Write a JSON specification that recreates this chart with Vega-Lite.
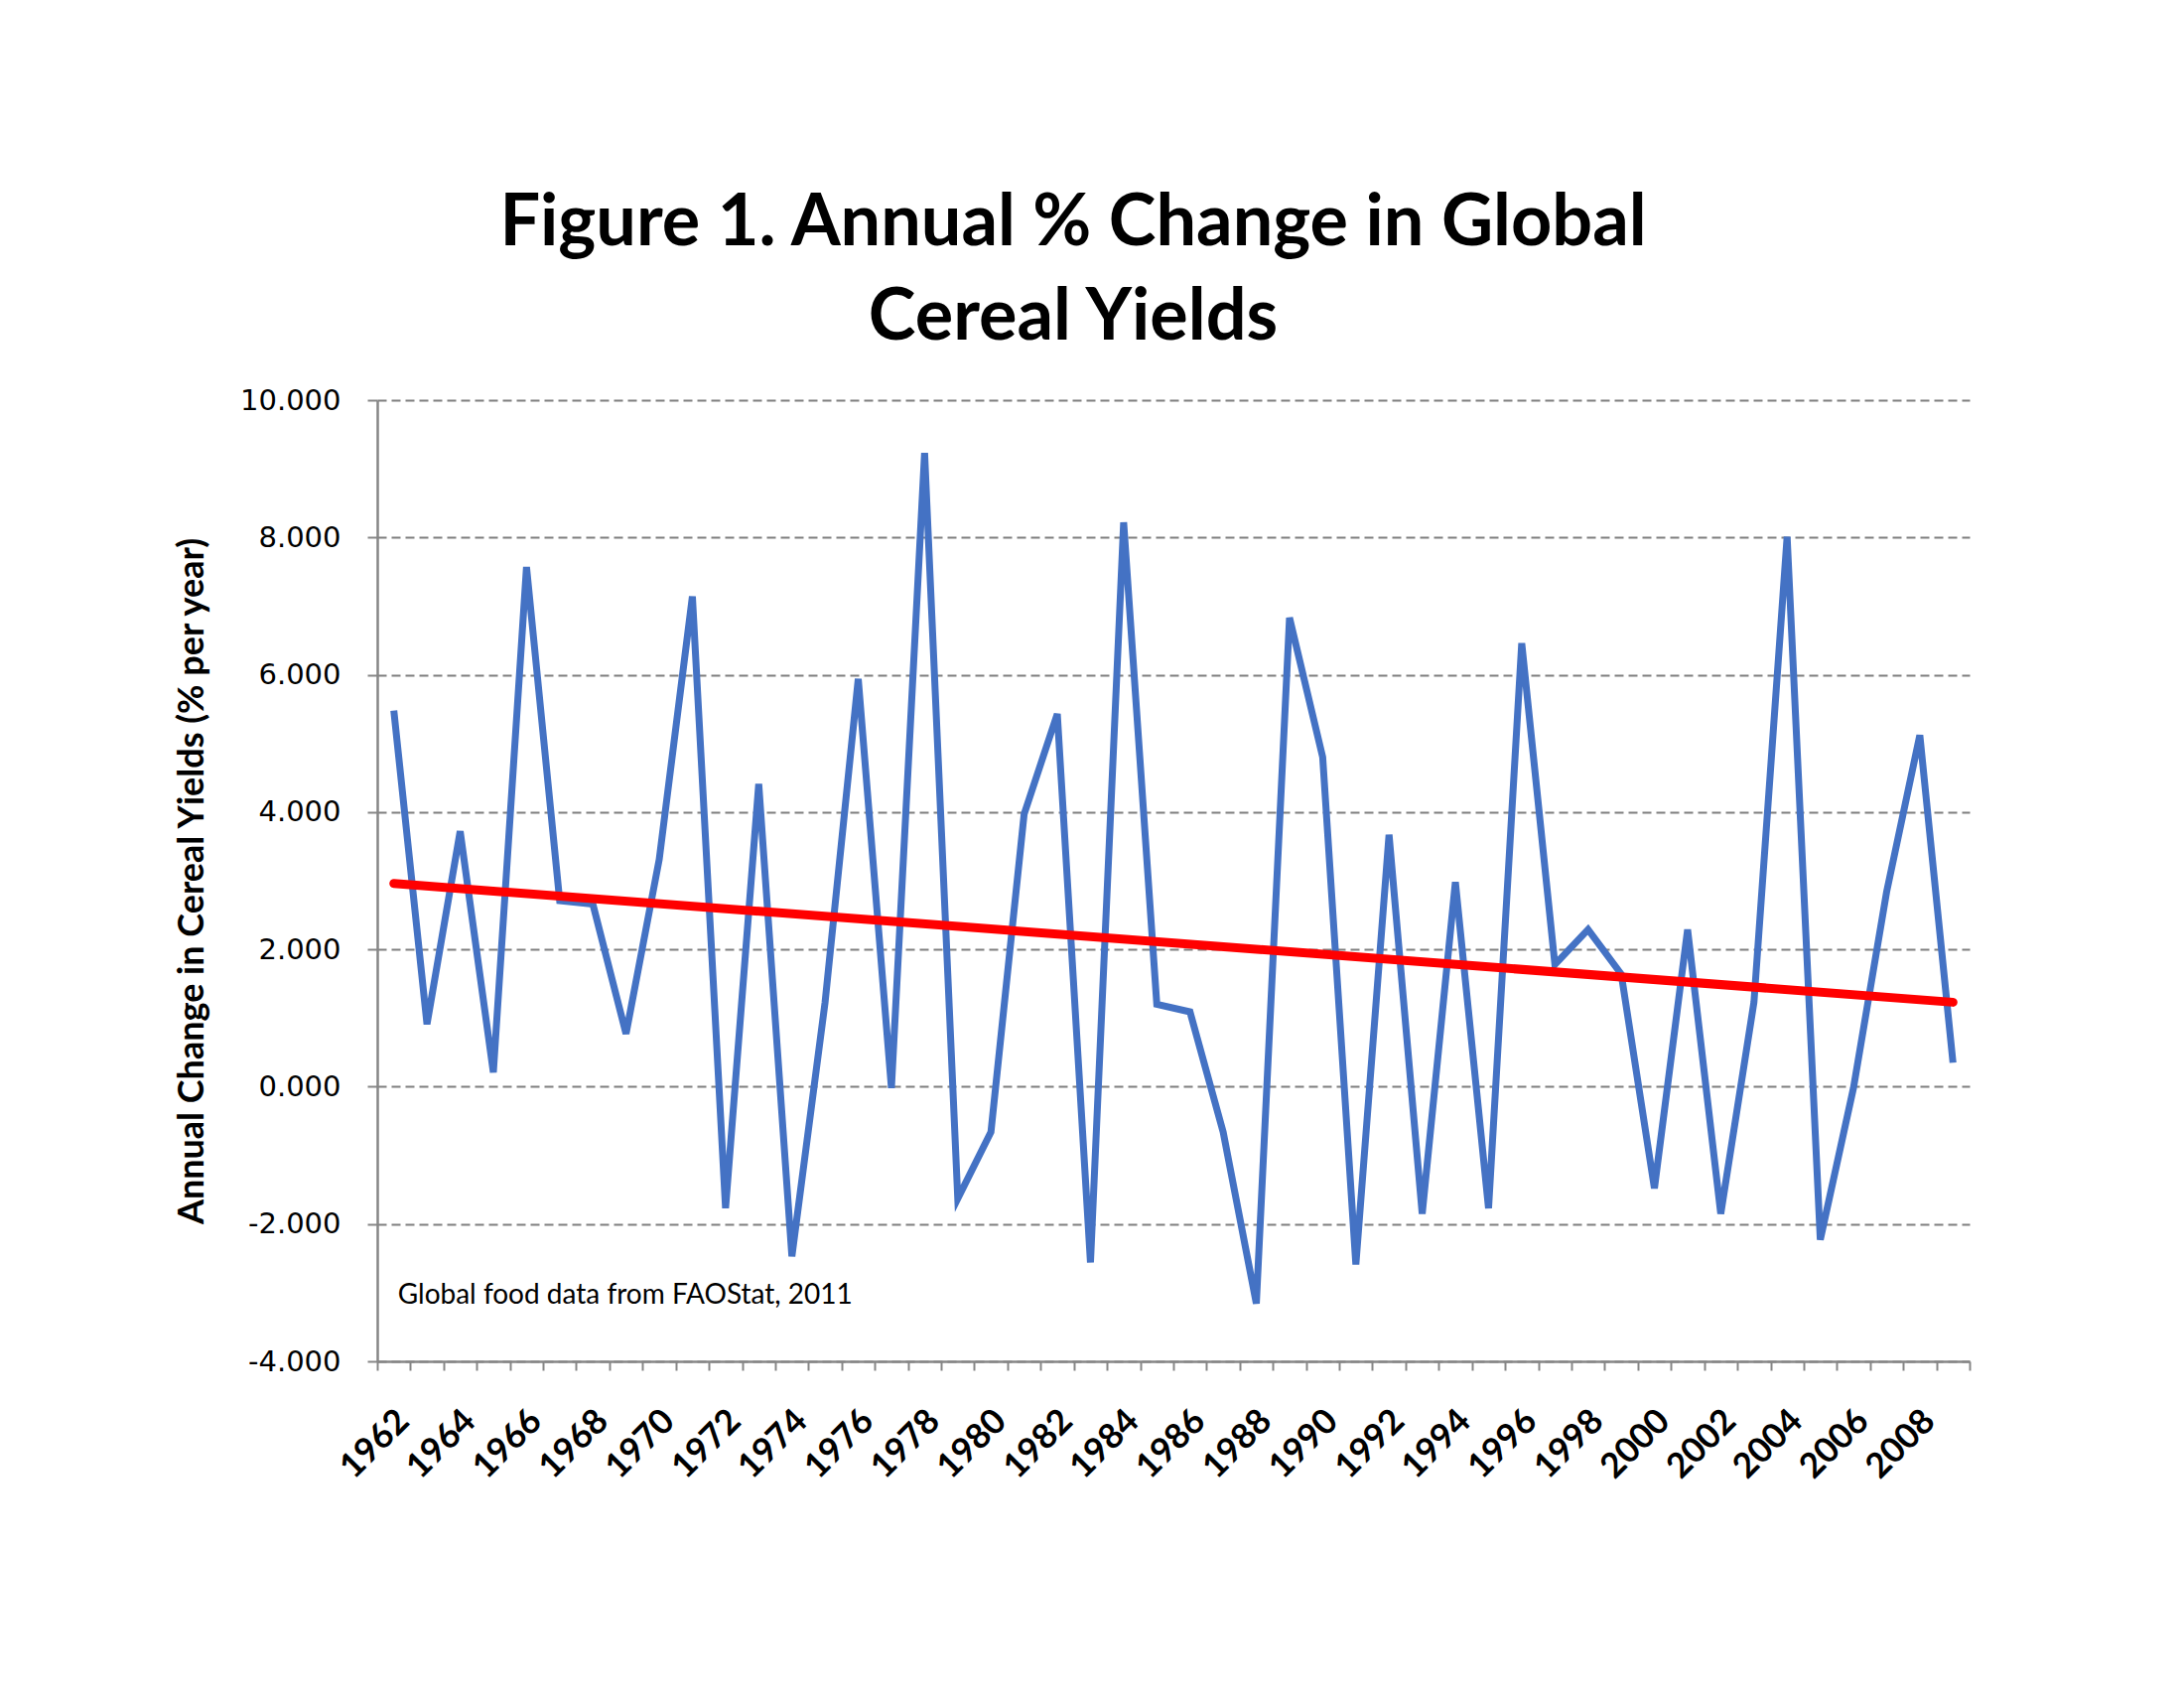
{
  "$schema": "https://vega.github.io/schema/vega-lite/v6.json",
  "autosize": {"type": "none"},
  "width": 1604,
  "height": 968,
  "padding": {"left": 380, "top": 403, "right": 216, "bottom": 329},
  "background": "white",
  "config": {"view": {"stroke": null}},
  "title": {
    "text": ["Figure 1. Annual % Change in Global", "Cereal Yields"],
    "font": "Lato",
    "fontWeight": "bold",
    "fontSize": 72,
    "lineHeight": 95,
    "color": "black",
    "anchor": "middle",
    "frame": "group",
    "dx": -101,
    "offset": 32
  },
  "datasets": {
    "yields": [
      {"year": 1962, "change": 5.48}, {"year": 1963, "change": 0.91}, {"year": 1964, "change": 3.72},
      {"year": 1965, "change": 0.21}, {"year": 1966, "change": 7.57}, {"year": 1967, "change": 2.71},
      {"year": 1968, "change": 2.66}, {"year": 1969, "change": 0.77}, {"year": 1970, "change": 3.31},
      {"year": 1971, "change": 7.14}, {"year": 1972, "change": -1.77}, {"year": 1973, "change": 4.41},
      {"year": 1974, "change": -2.47}, {"year": 1975, "change": 1.23}, {"year": 1976, "change": 5.94},
      {"year": 1977, "change": -0.02}, {"year": 1978, "change": 9.23}, {"year": 1979, "change": -1.63},
      {"year": 1980, "change": -0.66}, {"year": 1981, "change": 3.97}, {"year": 1982, "change": 5.43},
      {"year": 1983, "change": -2.56}, {"year": 1984, "change": 8.22}, {"year": 1985, "change": 1.2},
      {"year": 1986, "change": 1.09}, {"year": 1987, "change": -0.66}, {"year": 1988, "change": -3.16},
      {"year": 1989, "change": 6.83}, {"year": 1990, "change": 4.8}, {"year": 1991, "change": -2.59},
      {"year": 1992, "change": 3.67}, {"year": 1993, "change": -1.85}, {"year": 1994, "change": 2.98},
      {"year": 1995, "change": -1.77}, {"year": 1996, "change": 6.46}, {"year": 1997, "change": 1.78},
      {"year": 1998, "change": 2.29}, {"year": 1999, "change": 1.64}, {"year": 2000, "change": -1.48},
      {"year": 2001, "change": 2.29}, {"year": 2002, "change": -1.85}, {"year": 2003, "change": 1.23},
      {"year": 2004, "change": 8.01}, {"year": 2005, "change": -2.23}, {"year": 2006, "change": -0.02},
      {"year": 2007, "change": 2.84}, {"year": 2008, "change": 5.12}, {"year": 2009, "change": 0.35}
    ],
    "trend": [
      {"year": 1962, "change": 2.96},
      {"year": 2009, "change": 1.23}
    ]
  },
  "layer": [
    {
      "data": {"name": "yields"},
      "mark": {"type": "line", "color": "#4472C4", "strokeWidth": 7, "strokeJoin": "miter"},
      "encoding": {
        "x": {
          "field": "year",
          "type": "ordinal",
          "scale": {"type": "band", "paddingInner": 0, "paddingOuter": 0},
          "axis": {
            "title": null,
            "tickBand": "extent",
            "domainColor": "#868686",
            "domainWidth": 2.5,
            "tickColor": "#868686",
            "tickWidth": 2,
            "tickSize": 9,
            "labelAngle": -45,
            "labelAlign": "right",
            "labelBaseline": "top",
            "labelPadding": 33,
            "labelOffset": -3,
            "labelFont": "Lato",
            "labelFontWeight": "bold",
            "labelFontSize": 35,
            "labelColor": "black",
            "labelOverlap": false,
            "labelBound": false,
            "labelExpr": "datum.value % 2 == 0 ? datum.label : ''"
          }
        },
        "y": {
          "field": "change",
          "type": "quantitative",
          "scale": {"domain": [-4, 10], "nice": false, "zero": false},
          "axis": {
            "values": [-4, -2, 0, 2, 4, 6, 8, 10],
            "labelExpr": "(datum.value < 0 ? '-' : '') + format(abs(datum.value), '.3f')",
            "title": "Annual Change in Cereal Yields (% per year)",
            "titleFont": "Lato",
            "titleFontWeight": "bold",
            "titleFontSize": 36,
            "titleColor": "black",
            "titlePadding": 29,
            "labelFont": "DejaVu Sans",
            "labelFontSize": 29,
            "labelColor": "black",
            "labelPadding": 27,
            "domainColor": "#868686",
            "domainWidth": 2.5,
            "tickColor": "#868686",
            "tickWidth": 2,
            "tickSize": 10,
            "grid": true,
            "gridColor": "#7f7f7f",
            "gridWidth": 2,
            "gridDash": [9, 5]
          }
        }
      }
    },
    {
      "data": {"name": "trend"},
      "mark": {"type": "line", "color": "#FF0000", "strokeWidth": 9, "strokeCap": "round"},
      "encoding": {
        "x": {"field": "year", "type": "ordinal"},
        "y": {"field": "change", "type": "quantitative"}
      }
    },
    {
      "data": {"values": [{"note": "Global food data from FAOStat, 2011"}]},
      "mark": {"type": "text", "font": "Lato", "fontSize": 28, "color": "black", "align": "left", "baseline": "middle", "dx": 4},
      "encoding": {
        "x": {"datum": 1962, "type": "ordinal"},
        "y": {"datum": -3.05, "type": "quantitative"},
        "text": {"field": "note", "type": "nominal"}
      }
    }
  ]
}
